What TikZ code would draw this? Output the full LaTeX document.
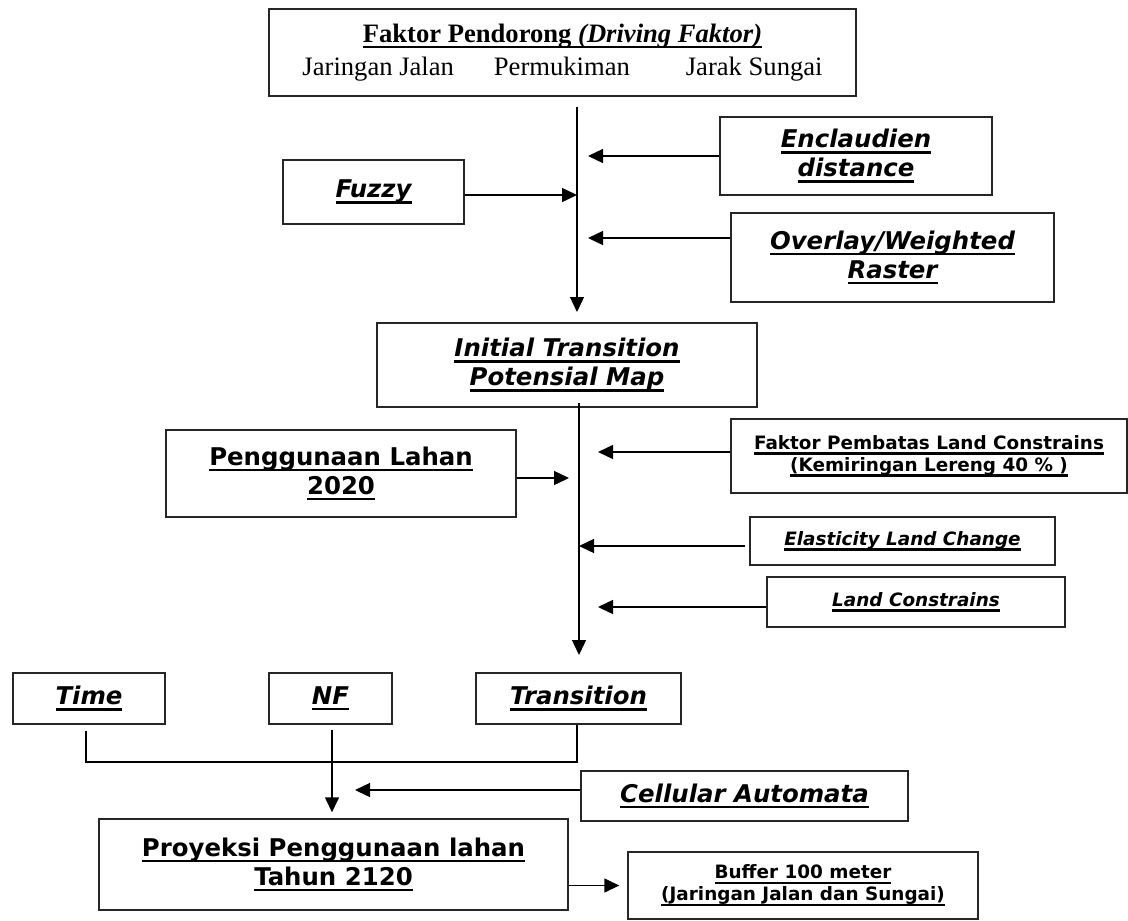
\documentclass[tikz,border=0pt]{standalone}
\usepackage{fontspec}
\setmainfont{Liberation Serif}
\newfontfamily\vfont{DejaVu Sans}
\usetikzlibrary{arrows.meta}

\newcommand{\garisbawah}[1]{\leavevmode\setbox0\hbox{#1}\rlap{\rule[-2.9pt]{\wd0}{1.3pt}}\box0}

\tikzset{
  blok/.style={draw=black!85, line width=0.7pt, align=center, inner sep=0pt,
    font=\vfont\bfseries\fontsize{12.2}{14.5}\selectfont},
  miring/.style={font=\vfont\bfseries\itshape\fontsize{12.2}{14.5}\selectfont},
  kecil/.style={font=\vfont\bfseries\fontsize{9.2}{11}\selectfont},
  kecilmiring/.style={font=\vfont\bfseries\itshape\fontsize{9.2}{11}\selectfont},
  panah/.style={line width=0.7pt, -{Triangle[length=7.5pt,width=7pt]}},
  garis/.style={line width=0.7pt}
}

\begin{document}
\begin{tikzpicture}[x=0.5pt,y=-0.5pt]
  \useasboundingbox (0,0) rectangle (1128,920);

  % faktor pendorong
  \node[blok, font=\rmfamily\fontsize{13.3}{16.5}\selectfont, minimum width=293.5pt, minimum height=43.5pt] (pendorong) at (562.5,52.5)
    {\garisbawah{\textbf{Faktor Pendorong \textit{(Driving Faktor)}}}\\
     Jaringan Jalan\hspace{20pt}Permukiman\hspace{28pt}Jarak Sungai};
  \node[blok, miring, minimum width=90.5pt, minimum height=32pt] (fuzzy) at (373.5,192) {\garisbawah{Fuzzy}};
  \node[blok, miring, minimum width=136pt, minimum height=39pt] (enclaudien) at (856,156) {\garisbawah{Enclaudien}\\\garisbawah{distance}};
  \node[blok, miring, minimum width=161.5pt, minimum height=44.5pt] (overlay) at (892.5,257.5) {\garisbawah{Overlay/Weighted}\\\garisbawah{Raster}};
  \node[blok, miring, minimum width=190pt, minimum height=42pt] (initial) at (567,365) {\garisbawah{Initial Transition}\\\garisbawah{Potensial Map}};

  % tahap kedua
  \node[blok, minimum width=175pt, minimum height=43.5pt] (lahan) at (341,473.5) {\garisbawah{Penggunaan Lahan}\\\garisbawah{2020}};
  \node[blok, kecil, minimum width=198pt, minimum height=37pt] (pembatas) at (929,456) {\garisbawah{Faktor Pembatas Land Constrains}\\\garisbawah{(Kemiringan Lereng 40 \% )}};
  \node[blok, kecilmiring, minimum width=152.5pt, minimum height=24pt] (elastis) at (902.5,541) {\garisbawah{Elasticity Land Change}};
  \node[blok, kecilmiring, minimum width=149pt, minimum height=25pt] (constrains) at (916,602) {\garisbawah{Land Constrains}};

  % tahap ketiga
  \node[blok, miring, minimum width=76pt, minimum height=25.5pt] (time) at (89,698.5) {\garisbawah{Time}};
  \node[blok, miring, minimum width=61.5pt, minimum height=25.5pt] (nf) at (330.5,698.5) {\garisbawah{NF}};
  \node[blok, miring, minimum width=102.5pt, minimum height=25.5pt] (transition) at (578.5,698.5) {\garisbawah{Transition}};
  \node[blok, miring, minimum width=163.5pt, minimum height=25pt] (cellular) at (744.5,796) {\garisbawah{Cellular Automata}};
  \node[blok, minimum width=234.5pt, minimum height=45.5pt] (proyeksi) at (333.5,864.5) {\garisbawah{Proyeksi Penggunaan lahan}\\\garisbawah{Tahun 2120}};
  \node[blok, kecil, minimum width=175pt, minimum height=33.5pt] (buffer) at (803,885.5) {\garisbawah{Buffer 100 meter}\\\garisbawah{(Jaringan Jalan dan Sungai)}};

  % garis utama
  \coordinate (atas1) at (577,107);
  \coordinate (bawah1) at (577,312);
  \coordinate (atas2) at (579,403);
  \coordinate (bawah2) at (579,655);
  \coordinate (gabung) at (577,762);
  \coordinate (turun) at ([xshift=0.75pt]nf.south);

  \draw[panah] (atas1) -- (bawah1);
  \draw[panah] (fuzzy.east |- 0,195) -- (atas1 |- 0,195);
  \draw[panah] (enclaudien.west) -- ([xshift=5.5pt]enclaudien.west -| atas1);
  \draw[panah] ([yshift=9.75pt]overlay.west) -- ([yshift=9.75pt,xshift=5.5pt]overlay.west -| atas1);

  \draw[panah] (atas2) -- (bawah2);
  \draw[panah] ([yshift=-2.25pt]lahan.east) -- ([yshift=-2.25pt,xshift=-5pt]lahan.east -| atas2);
  \draw[panah] ([yshift=2pt]pembatas.west) -- ([yshift=2pt,xshift=9.5pt]pembatas.west -| atas2);
  \draw[panah] ([yshift=-2.5pt,xshift=-2pt]elastis.west) -- ([yshift=-2.5pt]elastis.west -| atas2);
  \draw[panah] ([yshift=-2.5pt]constrains.west) -- ([yshift=-2.5pt,xshift=9.5pt]constrains.west -| atas2);

  \draw[garis] ([yshift=-3pt,xshift=-1.5pt]time.south) |- (gabung) -- (transition.south -| gabung);
  \draw[panah] ([yshift=-2.5pt]turun) -- ([yshift=3pt]proyeksi.north -| turun);
  \draw[panah] ([yshift=3pt]cellular.west) -- ([yshift=3pt,xshift=11.5pt]cellular.west -| turun);
  \draw[panah] (proyeksi.east |- buffer.west) -- ([xshift=-4pt]buffer.west);
\end{tikzpicture}
\end{document}
